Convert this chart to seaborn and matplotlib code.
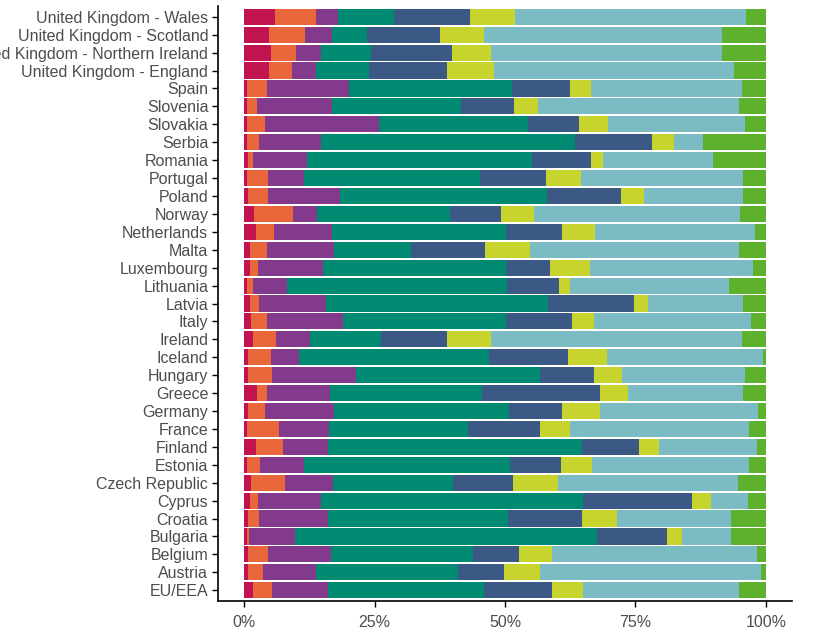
import matplotlib
matplotlib.use("Agg")
import matplotlib.pyplot as plt
import seaborn as sns
import numpy as np
import pandas as pd

countries = ["United Kingdom - Wales", "United Kingdom - Scotland",
             "United Kingdom - Northern Ireland", "United Kingdom - England",
             "Spain", "Slovenia", "Slovakia", "Serbia", "Romania", "Portugal",
             "Poland", "Norway", "Netherlands", "Malta", "Luxembourg", "Lithuania",
             "Latvia", "Italy", "Ireland", "Iceland", "Hungary", "Greece",
             "Germany", "France", "Finland", "Estonia", "Czech Republic",
             "Cyprus", "Croatia", "Bulgaria", "Belgium", "Austria", "EU/EEA"]

s1 = [5.9, 4.8, 5.1, 4.8, 0.6, 0.6, 0.6, 0.5, 0.8, 0.5, 0.8, 1.9, 2.2, 1.1, 1.1, 0.5,
      1.1, 1.3, 1.7, 0.8, 0.8, 2.4, 0.8, 0.5, 2.2, 0.6, 1.3, 1.1, 0.8, 0.5, 0.8, 0.8, 1.7]
s2 = [7.8, 6.9, 4.9, 4.3, 3.7, 1.9, 3.4, 2.4, 0.9, 4.1, 3.8, 7.5, 3.5, 3.2, 1.5, 1.2,
      1.8, 3.0, 4.4, 4.3, 4.6, 1.9, 3.2, 6.1, 5.3, 2.5, 6.5, 1.5, 2.1, 0.5, 3.8, 2.9, 3.7]
s3 = [4.3, 5.2, 4.8, 4.6, 15.8, 14.3, 21.8, 11.9, 10.3, 6.9, 13.7, 4.5, 11.2, 12.9, 12.6, 6.6,
      12.8, 14.7, 6.5, 5.4, 16.1, 12.1, 13.2, 9.6, 8.6, 8.4, 9.3, 12.2, 13.2, 8.7, 12.0, 10.0, 10.7]
s4 = [10.7, 6.7, 9.6, 10.2, 31.2, 24.7, 28.7, 48.6, 43.1, 33.7, 39.7, 25.6, 33.3, 14.7, 35.0, 42.1,
      42.5, 31.2, 13.7, 36.5, 35.3, 29.2, 33.6, 26.7, 48.7, 39.5, 23.0, 50.1, 34.4, 58.0, 27.2, 27.3, 29.8]
s5 = [14.5, 13.9, 15.4, 15.0, 11.1, 10.2, 9.7, 14.8, 11.3, 12.6, 14.2, 9.8, 10.8, 14.2, 8.5, 10.0,
      16.5, 12.7, 12.6, 15.1, 10.2, 22.6, 10.2, 13.8, 10.8, 9.7, 11.4, 21.0, 14.2, 13.3, 8.9, 8.9, 13.2]
s6 = [8.7, 8.4, 7.5, 9.0, 4.0, 4.6, 5.5, 4.2, 2.4, 6.7, 4.4, 6.3, 6.3, 8.6, 7.6, 2.0,
      2.7, 4.1, 8.4, 7.5, 5.5, 5.4, 7.2, 5.7, 4.0, 5.9, 8.6, 3.5, 6.7, 3.0, 6.4, 6.8, 5.8]
s7 = [44.3, 45.7, 44.3, 46.0, 29.0, 38.4, 26.2, 5.5, 21.1, 31.2, 19.1, 39.5, 30.7, 40.1, 31.2, 30.5,
      18.3, 30.2, 48.1, 29.8, 23.4, 22.1, 30.3, 34.4, 18.7, 30.2, 34.5, 7.1, 22.0, 9.4, 39.2, 42.4, 29.9]
s8 = [3.8, 8.4, 8.4, 6.1, 4.6, 5.2, 4.1, 12.1, 10.1, 4.3, 4.3, 4.9, 2.0, 5.2, 2.5, 7.1,
      4.3, 2.8, 4.6, 0.6, 4.1, 4.3, 1.5, 3.2, 1.7, 3.2, 5.4, 3.5, 6.6, 6.6, 1.7, 0.9, 5.2]

series = [s1, s2, s3, s4, s5, s6, s7, s8]
colors = ["#c0134f", "#e9683b", "#843a8c", "#008a72", "#3b5984",
          "#c8d42e", "#7bbbc3", "#5eb12c"]

vals = np.array(series, dtype=float)
vals = vals / vals.sum(axis=0) * 100.0
cum = np.cumsum(vals, axis=0)

sns.set_theme(style="ticks")
plt.rcParams["font.family"] = ["Liberation Sans", "DejaVu Sans"]

fig = plt.figure(figsize=(8.16, 6.41), dpi=100)
ax = fig.add_axes([218 / 816, 1 - 601 / 641, (792 - 218) / 816, (601 - 6) / 641])

for i in range(len(series) - 1, -1, -1):
    df = pd.DataFrame({"country": countries, "value": cum[i]})
    sns.barplot(data=df, x="value", y="country", order=countries, orient="h",
                color=colors[i], saturation=1, width=0.9, linewidth=0,
                errorbar=None, ax=ax)

ax.set_xlim(-5, 105)
ax.set_ylim(len(countries) - 0.4, -0.6)
ax.set_xticks([0, 25, 50, 75, 100])
ax.set_xticklabels(["0%", "25%", "50%", "75%", "100%"])
ax.set_xlabel("")
ax.set_ylabel("")
ax.tick_params(axis="both", colors="black", labelcolor="#4d4d4d",
               labelsize=11.5, length=4, width=1)
ax.tick_params(axis="x", pad=6)
ax.tick_params(axis="y", pad=3)
for side in ["top", "right"]:
    ax.spines[side].set_visible(False)
for side in ["left", "bottom"]:
    ax.spines[side].set_color("black")
    ax.spines[side].set_linewidth(1.2)

fig.savefig("out.png", dpi=100, facecolor="white")
